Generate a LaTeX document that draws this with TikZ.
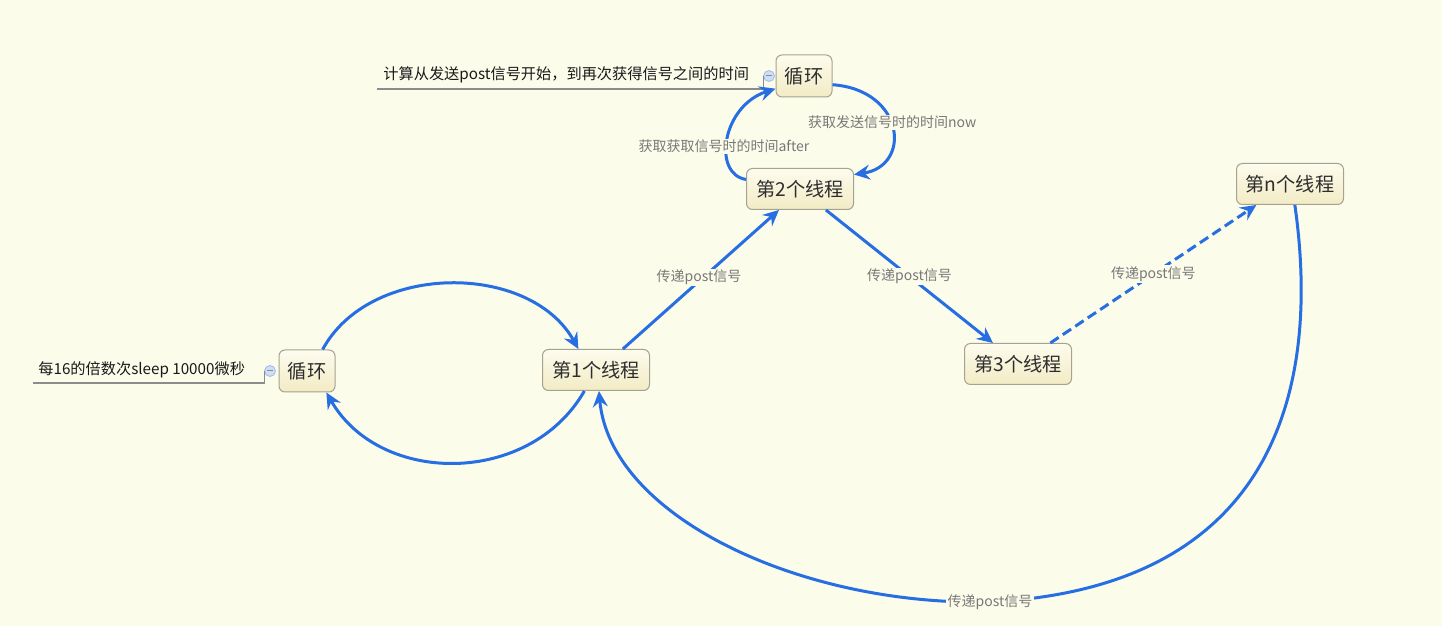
\documentclass[tikz,border=0pt]{standalone}
\usepackage{fontspec}
\setmainfont{Noto Sans CJK SC}
\usetikzlibrary{arrows.meta}
\definecolor{bg}{RGB}{251,252,234}
\definecolor{nodetop}{RGB}{253,252,238}
\definecolor{nodebot}{RGB}{242,235,196}
\definecolor{nodeborder}{RGB}{165,162,146}
\definecolor{nodetext}{RGB}{45,45,45}
\definecolor{edgeblue}{RGB}{38,110,226}
\definecolor{lblgray}{RGB}{120,120,120}
\definecolor{notegray}{RGB}{140,140,140}
\definecolor{btnfill}{RGB}{205,222,246}
\definecolor{btnborder}{RGB}{160,186,232}
\tikzset{
  thread/.style={draw=nodeborder, line width=0.5pt, rounded corners=3pt, top color=nodetop, bottom color=nodebot,
    minimum width=53.5pt, minimum height=20.5pt, inner sep=0pt, text=nodetext, font=\fontsize{9.6}{11}\selectfont},
  loopbox/.style={thread, minimum width=28pt, minimum height=21pt},
  flow/.style={draw=edgeblue, line width=1.5pt, -{Stealth[length=8pt,width=7.5pt,inset=2.8pt]}},
  lbl/.style={fill=bg, inner sep=0.6pt, text=lblgray, font=\fontsize{7}{8}\selectfont},
  notetext/.style={inner sep=0pt, anchor=west, text=black!90, font=\fontsize{7.6}{9}\selectfont},
  noteline/.style={draw=notegray, line width=0.6pt},
  btn/.style={circle, draw=btnborder, fill=btnfill, line width=0.4pt, minimum size=5.5pt, inner sep=0pt}
}
\begin{document}
\begin{tikzpicture}[x=0.5pt,y=0.5pt]
\fill[bg] (0,0) rectangle (1442,626);
\useasboundingbox (0,0) rectangle (1442,626);

% nodes
\node[loopbox] (loopT) at (804,550) {循环};
\node[thread] (t2) at (800,437) {第2个线程};
\node[loopbox] (loopL) at (307,255) {循环};
\node[thread] (t1) at (596,256) {第1个线程};
\node[thread] (t3) at (1018,262) {第3个线程};
\node[thread] (tn) at (1290,442) {第n个线程};

% notes
\node[notetext] (n1) at (383,551) {计算从发送post信号开始，到再次获得信号之间的时间};
\node[btn] (b1) at (769,550) {};
\draw[noteline] (377,537) -| (b1.west);
\draw[notegray, line width=0.5pt] ([xshift=-1.6pt]b1.center) -- ([xshift=1.6pt]b1.center);

\node[notetext] (n2) at (38,256) {每16的倍数次sleep 10000微秒};
\node[btn] (b2) at (270,255) {};
\draw[noteline] (33,243) -| (b2.west);
\draw[notegray, line width=0.5pt] ([xshift=-1.6pt]b2.center) -- ([xshift=1.6pt]b2.center);

% loop top
\draw[flow] (loopT.-17) .. controls (905,536) and (912,460) .. (t2.15)
  node[lbl, pos=0.5, yshift=3pt] {获取发送信号时的时间now};
\draw[flow] (t2.170) .. controls (712,452) and (722,520) .. (loopT.204)
  node[lbl, pos=0.5, xshift=-2pt, yshift=-4pt] {获取获取信号时的时间after};

% main chain
\draw[flow] (t1.38) -- (t2.225) node[lbl, pos=0.5, xshift=-1pt, yshift=1pt] {传递post信号};
\draw[flow] (t2.-39) -- (t3.140) node[lbl, pos=0.5, yshift=0pt] {传递post信号};
\draw[flow, dash pattern=on 5pt off 2.5pt] (t3.33) -- (tn.212) node[lbl, pos=0.5] {传递post信号};

% back to first
\draw[flow] (tn.-77) .. controls (1315,280) and (1305,40) .. (990,24)
  node[lbl] {传递post信号}
  .. controls (800,20) and (610,110) .. (t1.-82);

% loop left
\draw[flow] (loopL.54) .. controls (370,364) and (530,364) .. (t1.130);
\draw[flow] (t1.-119) .. controls (530,140) and (380,140) .. (loopL.-48);
\end{tikzpicture}
\end{document}
